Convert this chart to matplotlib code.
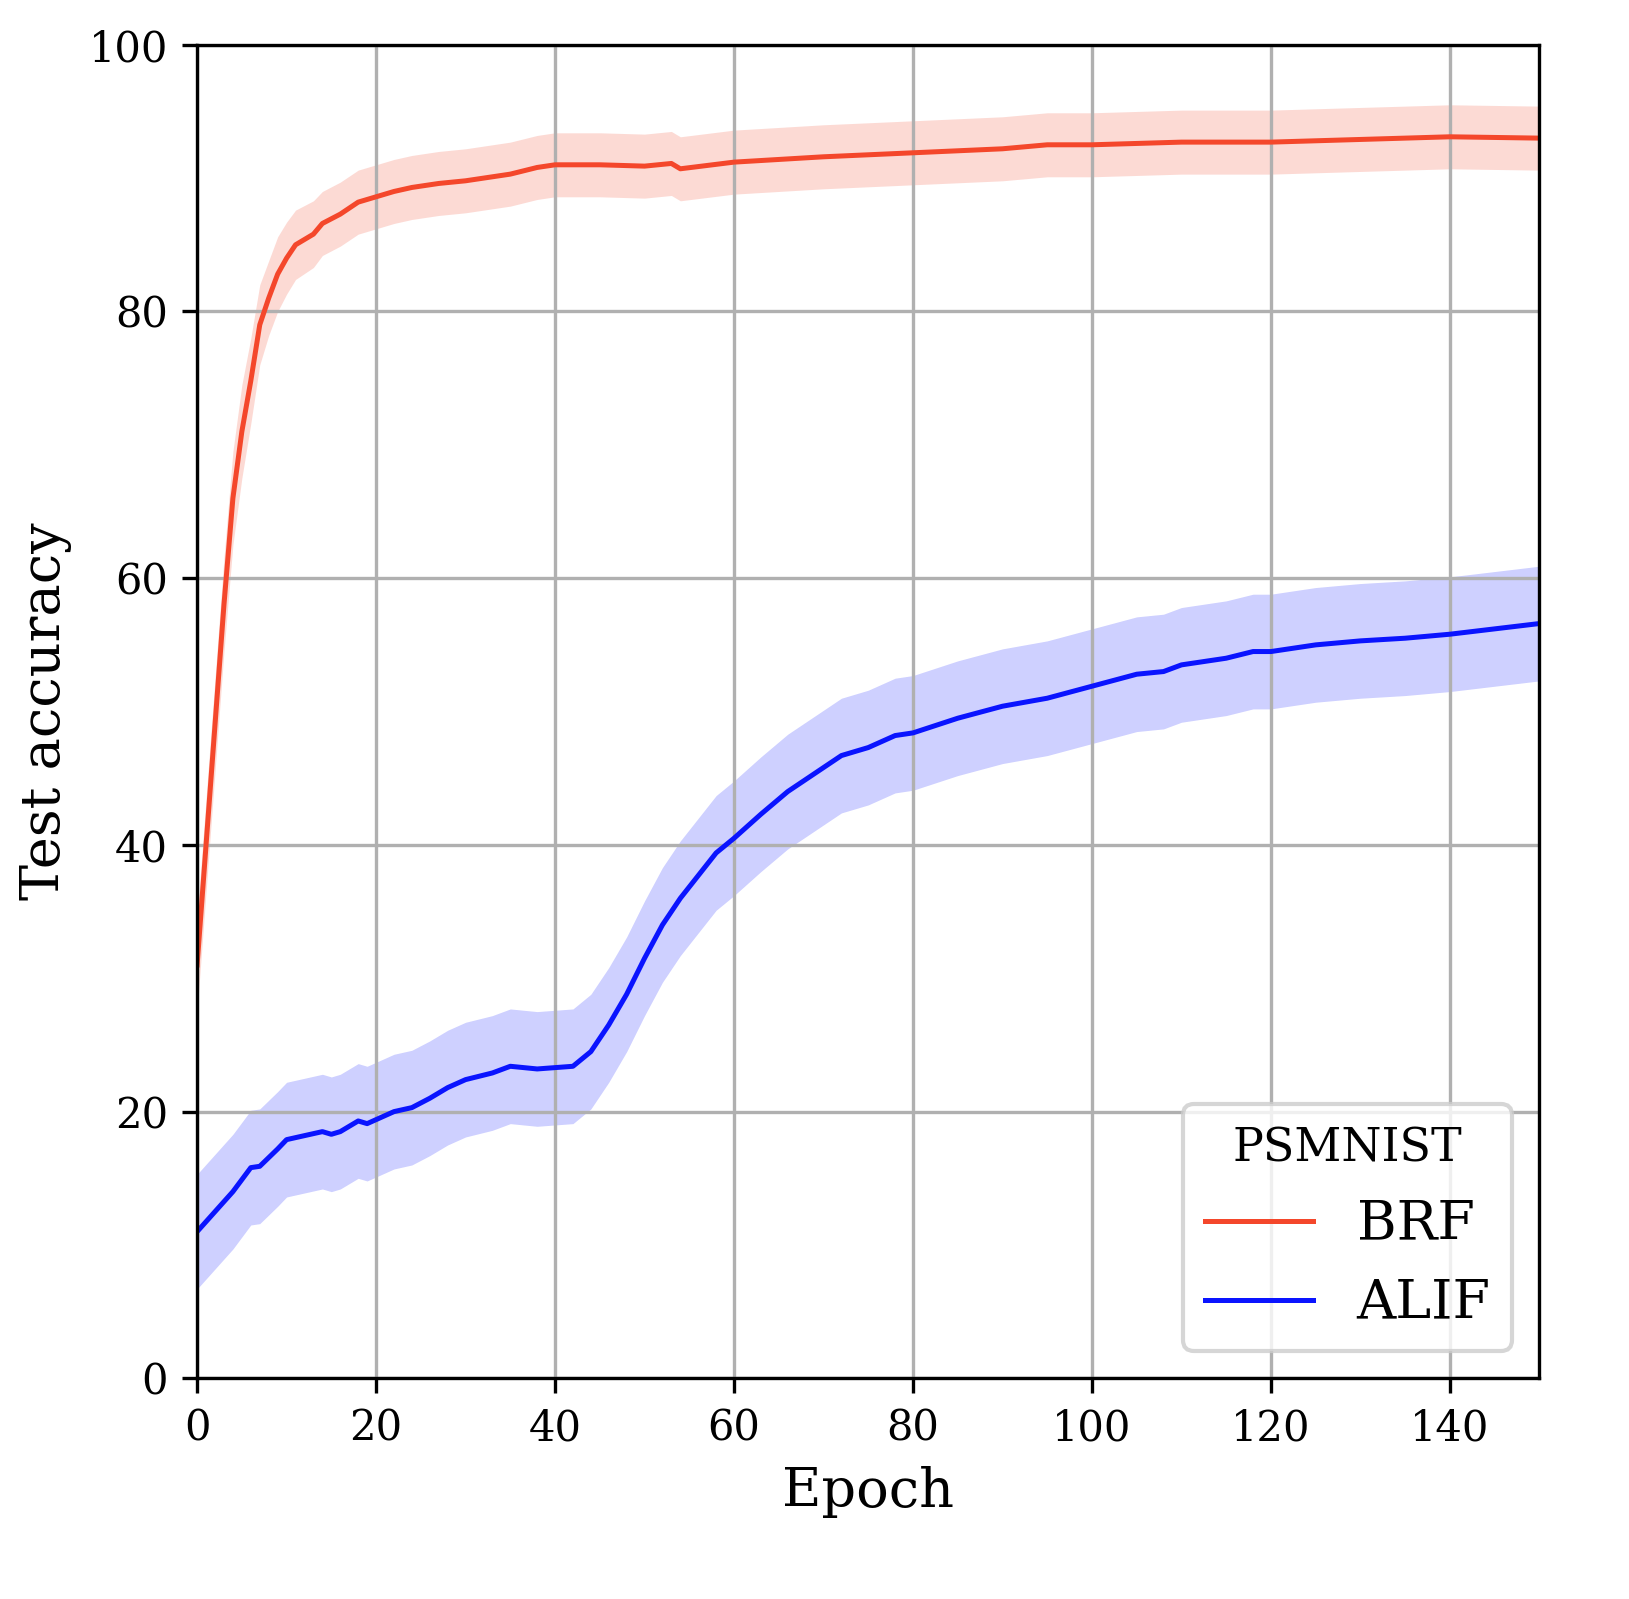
import matplotlib
matplotlib.use("Agg")
import matplotlib.pyplot as plt
import numpy as np

plt.rcParams['font.family'] = 'DejaVu Serif'

brf_epochs = [0, 1, 2, 3, 4, 5, 6, 7, 8, 9, 10, 11, 13, 14, 16, 18, 20, 22, 24, 27, 30, 35, 38,
              40, 45, 50, 53, 54, 60, 65, 70, 80, 90, 95, 100, 110, 120, 130, 140, 150]
brf_mean = [31, 40, 49, 58, 66, 71, 74.8, 79, 81, 82.8, 84, 85, 85.8, 86.6, 87.3, 88.2, 88.6, 89,
            89.3, 89.6, 89.8, 90.3, 90.8, 91, 91, 90.9, 91.1, 90.7, 91.2, 91.4, 91.6, 91.9, 92.2,
            92.5, 92.5, 92.7, 92.7, 92.9, 93.1, 93.0]
brf_std = [3.5, 3.5, 3.5, 3.5, 3.5, 3.5, 3.2, 3.0, 2.8, 2.8, 2.7, 2.6, 2.5, 2.4, 2.4, 2.4, 2.4,
           2.4, 2.4, 2.4, 2.4, 2.4, 2.4, 2.4, 2.4, 2.4, 2.4, 2.4, 2.4, 2.4, 2.4, 2.4, 2.4, 2.4,
           2.4, 2.4, 2.4, 2.4, 2.4, 2.4]

alif_epochs = [0, 2, 4, 6, 7, 9, 10, 12, 14, 15, 16, 18, 19, 22, 24, 26, 28, 30, 33, 35, 38,
               42, 44, 46, 48, 50, 52, 54, 56, 58, 60, 63, 66, 70, 72, 75, 78, 80, 85, 90, 95,
               100, 105, 108, 110, 115, 118, 120, 125, 130, 135, 140, 145, 150]
alif_mean = [11, 12.5, 14, 15.8, 15.9, 17.2, 17.9, 18.2, 18.5, 18.3, 18.5, 19.3, 19.1, 20.0,
             20.3, 21.0, 21.8, 22.4, 22.9, 23.4, 23.2, 23.4, 24.5, 26.5, 28.8, 31.5, 34, 36,
             37.7, 39.4, 40.5, 42.3, 44, 45.8, 46.7, 47.3, 48.2, 48.4, 49.5, 50.4, 51, 51.9,
             52.8, 53, 53.5, 54, 54.5, 54.5, 55, 55.3, 55.5, 55.8, 56.2, 56.6]
alif_std = 4.3

fig, ax = plt.subplots(figsize=(5.43, 5.33), dpi=300)

red = '#f4472b'
blue = '#0a14ff'
bm, bs = np.array(brf_mean), np.array(brf_std)
am = np.array(alif_mean)
ax.fill_between(brf_epochs, bm - bs, bm + bs, color=red, alpha=0.2, lw=0)
ax.plot(brf_epochs, bm, color=red, lw=1.2, label='BRF')
ax.fill_between(alif_epochs, am - alif_std, am + alif_std, color=blue, alpha=0.2, lw=0)
ax.plot(alif_epochs, am, color=blue, lw=1.2, label='ALIF')

ax.set_xlim(0, 150)
ax.set_ylim(0, 100)
ax.set_xlabel('Epoch', fontsize=13)
ax.set_ylabel('Test accuracy', fontsize=13)
ax.grid(True)
ax.legend(title='PSMNIST', loc='lower right', fontsize=13, title_fontsize=11)

fig.subplots_adjust(left=0.121, right=0.945, top=0.972, bottom=0.138)
fig.savefig('out.png')
